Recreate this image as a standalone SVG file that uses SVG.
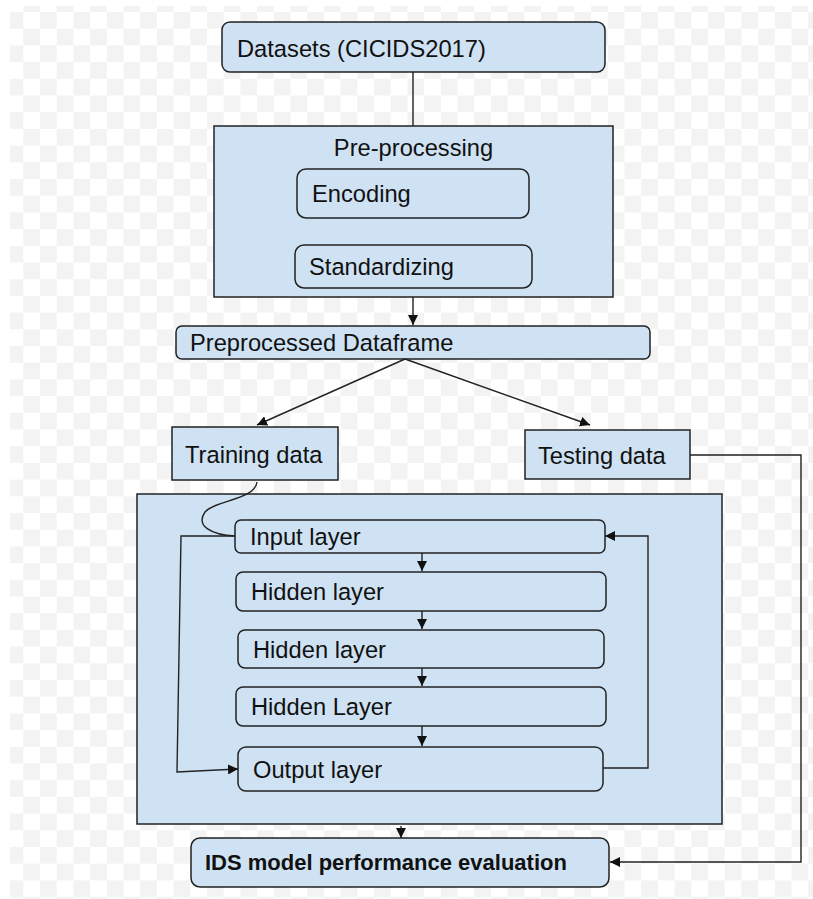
<svg xmlns="http://www.w3.org/2000/svg" width="813" height="899" viewBox="0 0 813 899">
<style>
.box{fill:#cfe2f3;stroke:#222;stroke-width:1.5}
.t{font-family:"Liberation Sans",Arial,sans-serif;font-size:23.7px;fill:#111}
.b{font-weight:bold;font-size:22px}
.c{fill:none;stroke:#222;stroke-width:1.4}
</style>
<defs>
<pattern id="chk" x="23.3" y="12" width="33.4" height="33.4" patternUnits="userSpaceOnUse">
<rect x="16.7" y="0" width="16.7" height="16.7" fill="#f3f3f3"/>
<rect x="0" y="16.7" width="16.7" height="16.7" fill="#f3f3f3"/>
</pattern>
<marker id="ah" viewBox="0 0 10 10" refX="10" refY="5" markerWidth="10" markerHeight="10" markerUnits="userSpaceOnUse" orient="auto">
<path d="M0,0 L10,5 L0,10 Z" fill="#111"/>
</marker>
</defs>
<rect width="813" height="899" fill="#fff"/>
<rect x="10" y="6" width="803" height="893" fill="url(#chk)"/>

<g id="datasets"><rect class="box" x="222" y="22" width="383" height="50" rx="8"/><text class="t" x="237" y="57">Datasets (CICIDS2017)</text></g>
<g id="preprocessing"><rect class="box" x="214" y="126" width="399" height="171"/><text class="t" x="413.5" y="156" text-anchor="middle">Pre-processing</text></g>
<g id="encoding"><rect class="box" x="297" y="169" width="232" height="49" rx="9"/><text class="t" x="312" y="202">Encoding</text></g>
<g id="standardizing"><rect class="box" x="295" y="245" width="237" height="43" rx="9"/><text class="t" x="309" y="275">Standardizing</text></g>
<g id="dataframe"><rect class="box" x="176" y="326" width="474" height="33" rx="6"/><text class="t" x="190" y="351">Preprocessed Dataframe</text></g>
<g id="training"><rect class="box" x="172" y="427" width="166" height="53"/><text class="t" x="185" y="463">Training data</text></g>
<g id="testing"><rect class="box" x="525" y="430" width="165" height="49"/><text class="t" x="538" y="464">Testing data</text></g>
<g id="model"><rect class="box" x="137" y="494" width="585" height="330"/></g>
<g id="input"><rect class="box" x="235" y="520" width="370" height="33" rx="6"/><text class="t" x="250" y="545">Input layer</text></g>
<g id="hidden1"><rect class="box" x="236" y="572" width="370" height="39" rx="7"/><text class="t" x="251" y="600">Hidden layer</text></g>
<g id="hidden2"><rect class="box" x="238" y="630" width="366" height="38" rx="7"/><text class="t" x="253" y="658">Hidden layer</text></g>
<g id="hidden3"><rect class="box" x="236" y="687" width="370" height="39" rx="7"/><text class="t" x="251" y="715">Hidden Layer</text></g>
<g id="output"><rect class="box" x="238" y="747" width="365" height="44" rx="8"/><text class="t" x="253" y="778">Output layer</text></g>
<g id="evaluation"><rect class="box" x="191" y="838" width="418" height="49" rx="9"/><text class="t b" x="205" y="870">IDS model performance evaluation</text></g>

<g id="connectors">
<path class="c" d="M413,72 V126"/>
<path class="c" d="M413,297 V325" marker-end="url(#ah)"/>
<path class="c" d="M405,359 L257,425" marker-end="url(#ah)"/>
<path class="c" d="M405,359 L590,425" marker-end="url(#ah)"/>
<path class="c" d="M690,455 H801 V862 H610" marker-end="url(#ah)"/>
<path class="c" d="M257,482 C255,500 215,500 205,512 C195,526 212,535 235,536"/>
<path class="c" d="M235,536 H181 L177,772 L238,769" marker-end="url(#ah)"/>
<path class="c" d="M603,768 H648 V536 H605" marker-end="url(#ah)"/>
<path class="c" d="M422,553 V571" marker-end="url(#ah)"/>
<path class="c" d="M422,611 V629" marker-end="url(#ah)"/>
<path class="c" d="M422,668 V686" marker-end="url(#ah)"/>
<path class="c" d="M422,726 V746" marker-end="url(#ah)"/>
<path class="c" d="M401,826 V838" marker-end="url(#ah)"/>
</g>
</svg>
